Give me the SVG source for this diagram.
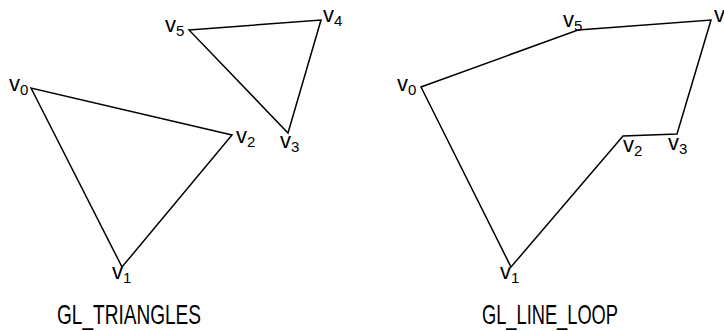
<svg xmlns="http://www.w3.org/2000/svg" width="724" height="331" viewBox="0 0 724 331">
<style>
.edge{fill:none;stroke:#000;stroke-width:1.5;stroke-linejoin:miter}
.lbl{font-family:"Liberation Sans",Arial,sans-serif;font-size:22px;fill:#000}
.sub{font-size:15px}
.title{font-family:"Liberation Sans",Arial,sans-serif;font-size:28px;fill:#000}
</style>
<rect width="724" height="331" fill="#fff"/>
<g id="connectors">
<polygon class="edge" points="31,88 122,267 232,135"/>
<polygon class="edge" points="189,30 321,20 288,133"/>
<polygon class="edge" points="421,87 511,267 623,136 677,134 711,20 578,30"/>
</g>
<g id="left-v0"><text class="lbl" x="9" y="91">v<tspan class="sub" dy="4">0</tspan></text></g>
<g id="left-v1"><text class="lbl" x="112" y="279">v<tspan class="sub" dy="4">1</tspan></text></g>
<g id="left-v2"><text class="lbl" x="236" y="143">v<tspan class="sub" dy="4">2</tspan></text></g>
<g id="left-v3"><text class="lbl" x="280" y="148">v<tspan class="sub" dy="4">3</tspan></text></g>
<g id="left-v4"><text class="lbl" x="323" y="22">v<tspan class="sub" dy="4">4</tspan></text></g>
<g id="left-v5"><text class="lbl" x="165" y="32">v<tspan class="sub" dy="4">5</tspan></text></g>
<g id="right-v0"><text class="lbl" x="397" y="91">v<tspan class="sub" dy="4">0</tspan></text></g>
<g id="right-v1"><text class="lbl" x="500" y="279">v<tspan class="sub" dy="4">1</tspan></text></g>
<g id="right-v2"><text class="lbl" x="623" y="152">v<tspan class="sub" dy="4">2</tspan></text></g>
<g id="right-v3"><text class="lbl" x="668" y="150">v<tspan class="sub" dy="4">3</tspan></text></g>
<g id="right-v4"><text class="lbl" x="714" y="22">v<tspan class="sub" dy="4">4</tspan></text></g>
<g id="right-v5"><text class="lbl" x="563" y="27">v<tspan class="sub" dy="4">5</tspan></text></g>
<g id="title-left"><text class="title" x="57" y="324" textLength="144" lengthAdjust="spacingAndGlyphs">GL_TRIANGLES</text></g>
<g id="title-right"><text class="title" x="482" y="324" textLength="136" lengthAdjust="spacingAndGlyphs">GL_LINE_LOOP</text></g>
</svg>
